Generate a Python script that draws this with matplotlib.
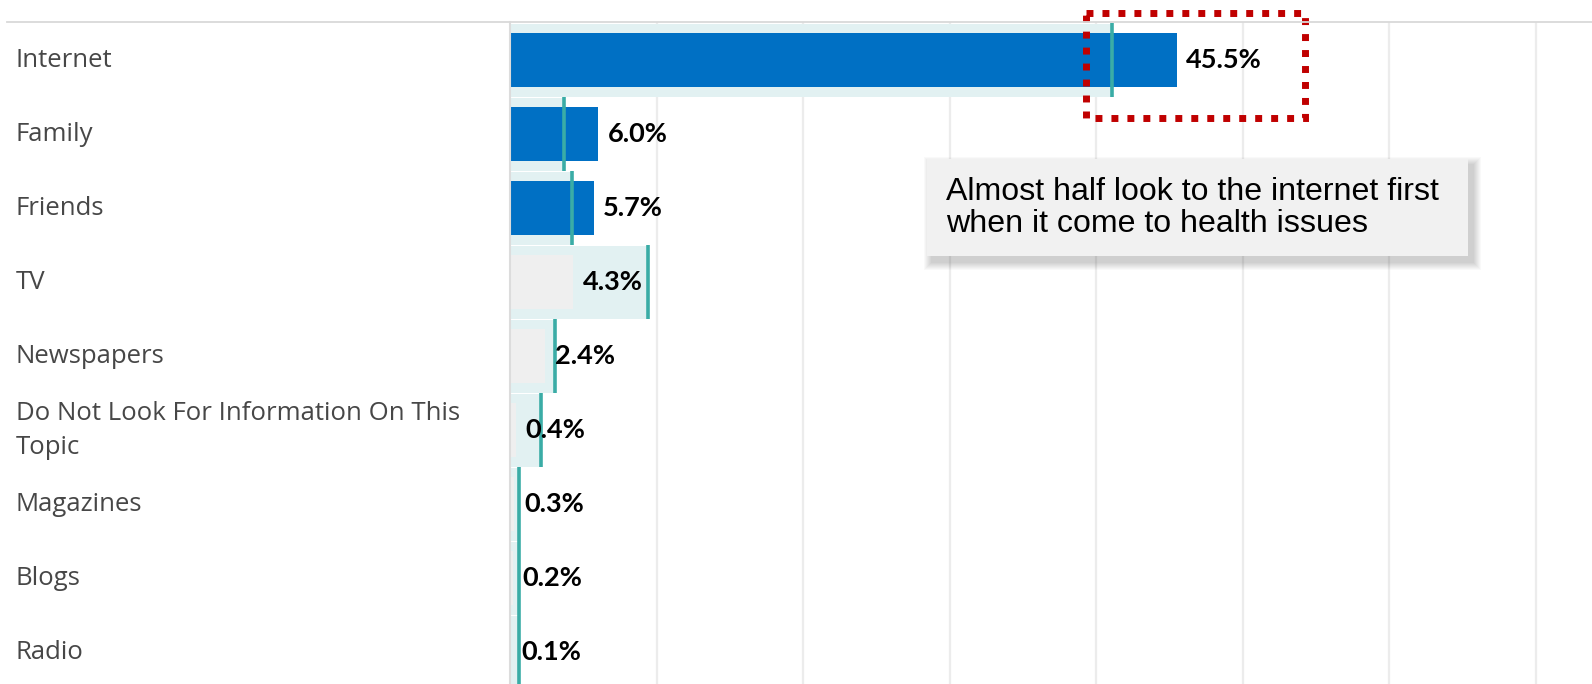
import matplotlib

matplotlib.use("Agg")
import matplotlib.pyplot as plt
from matplotlib.patches import Rectangle
from matplotlib.lines import Line2D
from matplotlib.transforms import blended_transform_factory

# data
categories = [
    "Internet",
    "Family",
    "Friends",
    "TV",
    "Newspapers",
    "Do Not Look For Information On This\nTopic",
    "Magazines",
    "Blogs",
    "Radio",
]
values = [45.5, 6.0, 5.7, 4.3, 2.4, 0.4, 0.3, 0.2, 0.1]
reference = [41.1, 3.7, 4.2, 9.4, 3.1, 2.1, 0.6, 0.6, 0.6]
value_labels = ["45.5%", "6.0%", "5.7%", "4.3%", "2.4%", "0.4%", "0.3%", "0.2%", "0.1%"]
note_text = "Almost half look to the internet first\nwhen it come to health issues"

BLUE = "#0070c4"
GRAY_BAR = "#efefef"
BG_TEAL = "#e2f1f2"
REF_TEAL = "#3aaca6"
GRID = "#ececec"
LABEL_GRAY = "#474747"

W, H = 1592, 684
PX_PER_PCT = 14.65   # x pixels per percent
PX_PER_ROW = 74.0    # y pixels per row
fig = plt.figure(figsize=(W / 100, H / 100), dpi=100)
ax = fig.add_axes([510 / W, 0, (W - 510) / W, (H - 22) / H])

y = list(range(len(categories)))

# background bars up to the reference, then the actual value on top
ax.barh(y, reference, height=0.99, color=BG_TEAL, zorder=1)
colors = [BLUE if v > r else GRAY_BAR for v, r in zip(values, reference)]
ax.barh(y, values, height=0.73, color=colors, zorder=2)

for yi, r in zip(y, reference):
    ax.plot([r, r], [yi - 0.5, yi + 0.5], color=REF_TEAL, lw=2.6, zorder=3,
            solid_capstyle="butt")

for yi, v, lab in zip(y, values, value_labels):
    ax.annotate(lab, (v, yi), xytext=(7, 0), textcoords="offset points",
                ha="left", va="center", fontsize=19.5, fontweight="bold",
                family="Lato", color="black", zorder=5)

ax.set_xlim(0, (W - 510) / PX_PER_PCT)
ax.set_ylim(8.426, -0.52)
ax.set_xticks(range(10, 80, 10))
ax.set_yticks([])
ax.xaxis.set_ticks_position("none")
ax.set_xticklabels([])
ax.grid(axis="x", color=GRID, lw=1.6, zorder=0)
ax.set_axisbelow(True)
for side in ["top", "right", "bottom"]:
    ax.spines[side].set_visible(False)
ax.spines["left"].set_color("#dcdcdc")
ax.spines["left"].set_linewidth(1.5)
ax.spines["left"].set_zorder(4)

# category labels on the left
trans = blended_transform_factory(fig.transFigure, ax.transData)
for yi, name in zip(y, categories):
    ax.text(16 / W, yi, name, transform=trans, ha="left", va="center",
            fontsize=18.5, family="Open Sans", color=LABEL_GRAY, linespacing=1.5,
            clip_on=False)

# top rule
fig.add_artist(Line2D([7 / W, 1], [1 - 22 / H, 1 - 22 / H], color="#d9d9d9", lw=1.3))

# callout box with a soft shadow (stacked translucent layers)
bx0, bx1 = (927 - 510) / PX_PER_PCT, (1468 - 510) / PX_PER_PCT
by0, by1 = (159 - 60.5) / PX_PER_ROW, (256 - 60.5) / PX_PER_ROW
dx, dy = 1 / PX_PER_PCT, 1 / PX_PER_ROW
for k in range(1, 9):
    ax.add_patch(Rectangle((bx0 + (5 - k) * dx, by0 + (6 - k) * dy),
                           bx1 - bx0 + 2 * k * dx, by1 - by0 + 2 * k * dy,
                           facecolor="black", edgecolor="none", alpha=0.025, zorder=6))
ax.add_patch(Rectangle((bx0, by0), bx1 - bx0, by1 - by0, facecolor="#f1f1f1",
                       edgecolor="none", zorder=7))
ax.text((946 - 510) / PX_PER_PCT, (by0 + by1) / 2 + 0.01, note_text, ha="left", va="center",
        fontsize=23.1, family="Liberation Sans", color="black", linespacing=1.1, zorder=8)

# red dotted highlight around the Internet value
ax.add_patch(Rectangle((39.3, -0.642), 15.0, 1.42, fill=False, edgecolor="#c00000",
                       lw=5, linestyle=(0, (1, 1.3)), capstyle="butt",
                       clip_on=False, zorder=9))

fig.savefig("out.png", dpi=100)
